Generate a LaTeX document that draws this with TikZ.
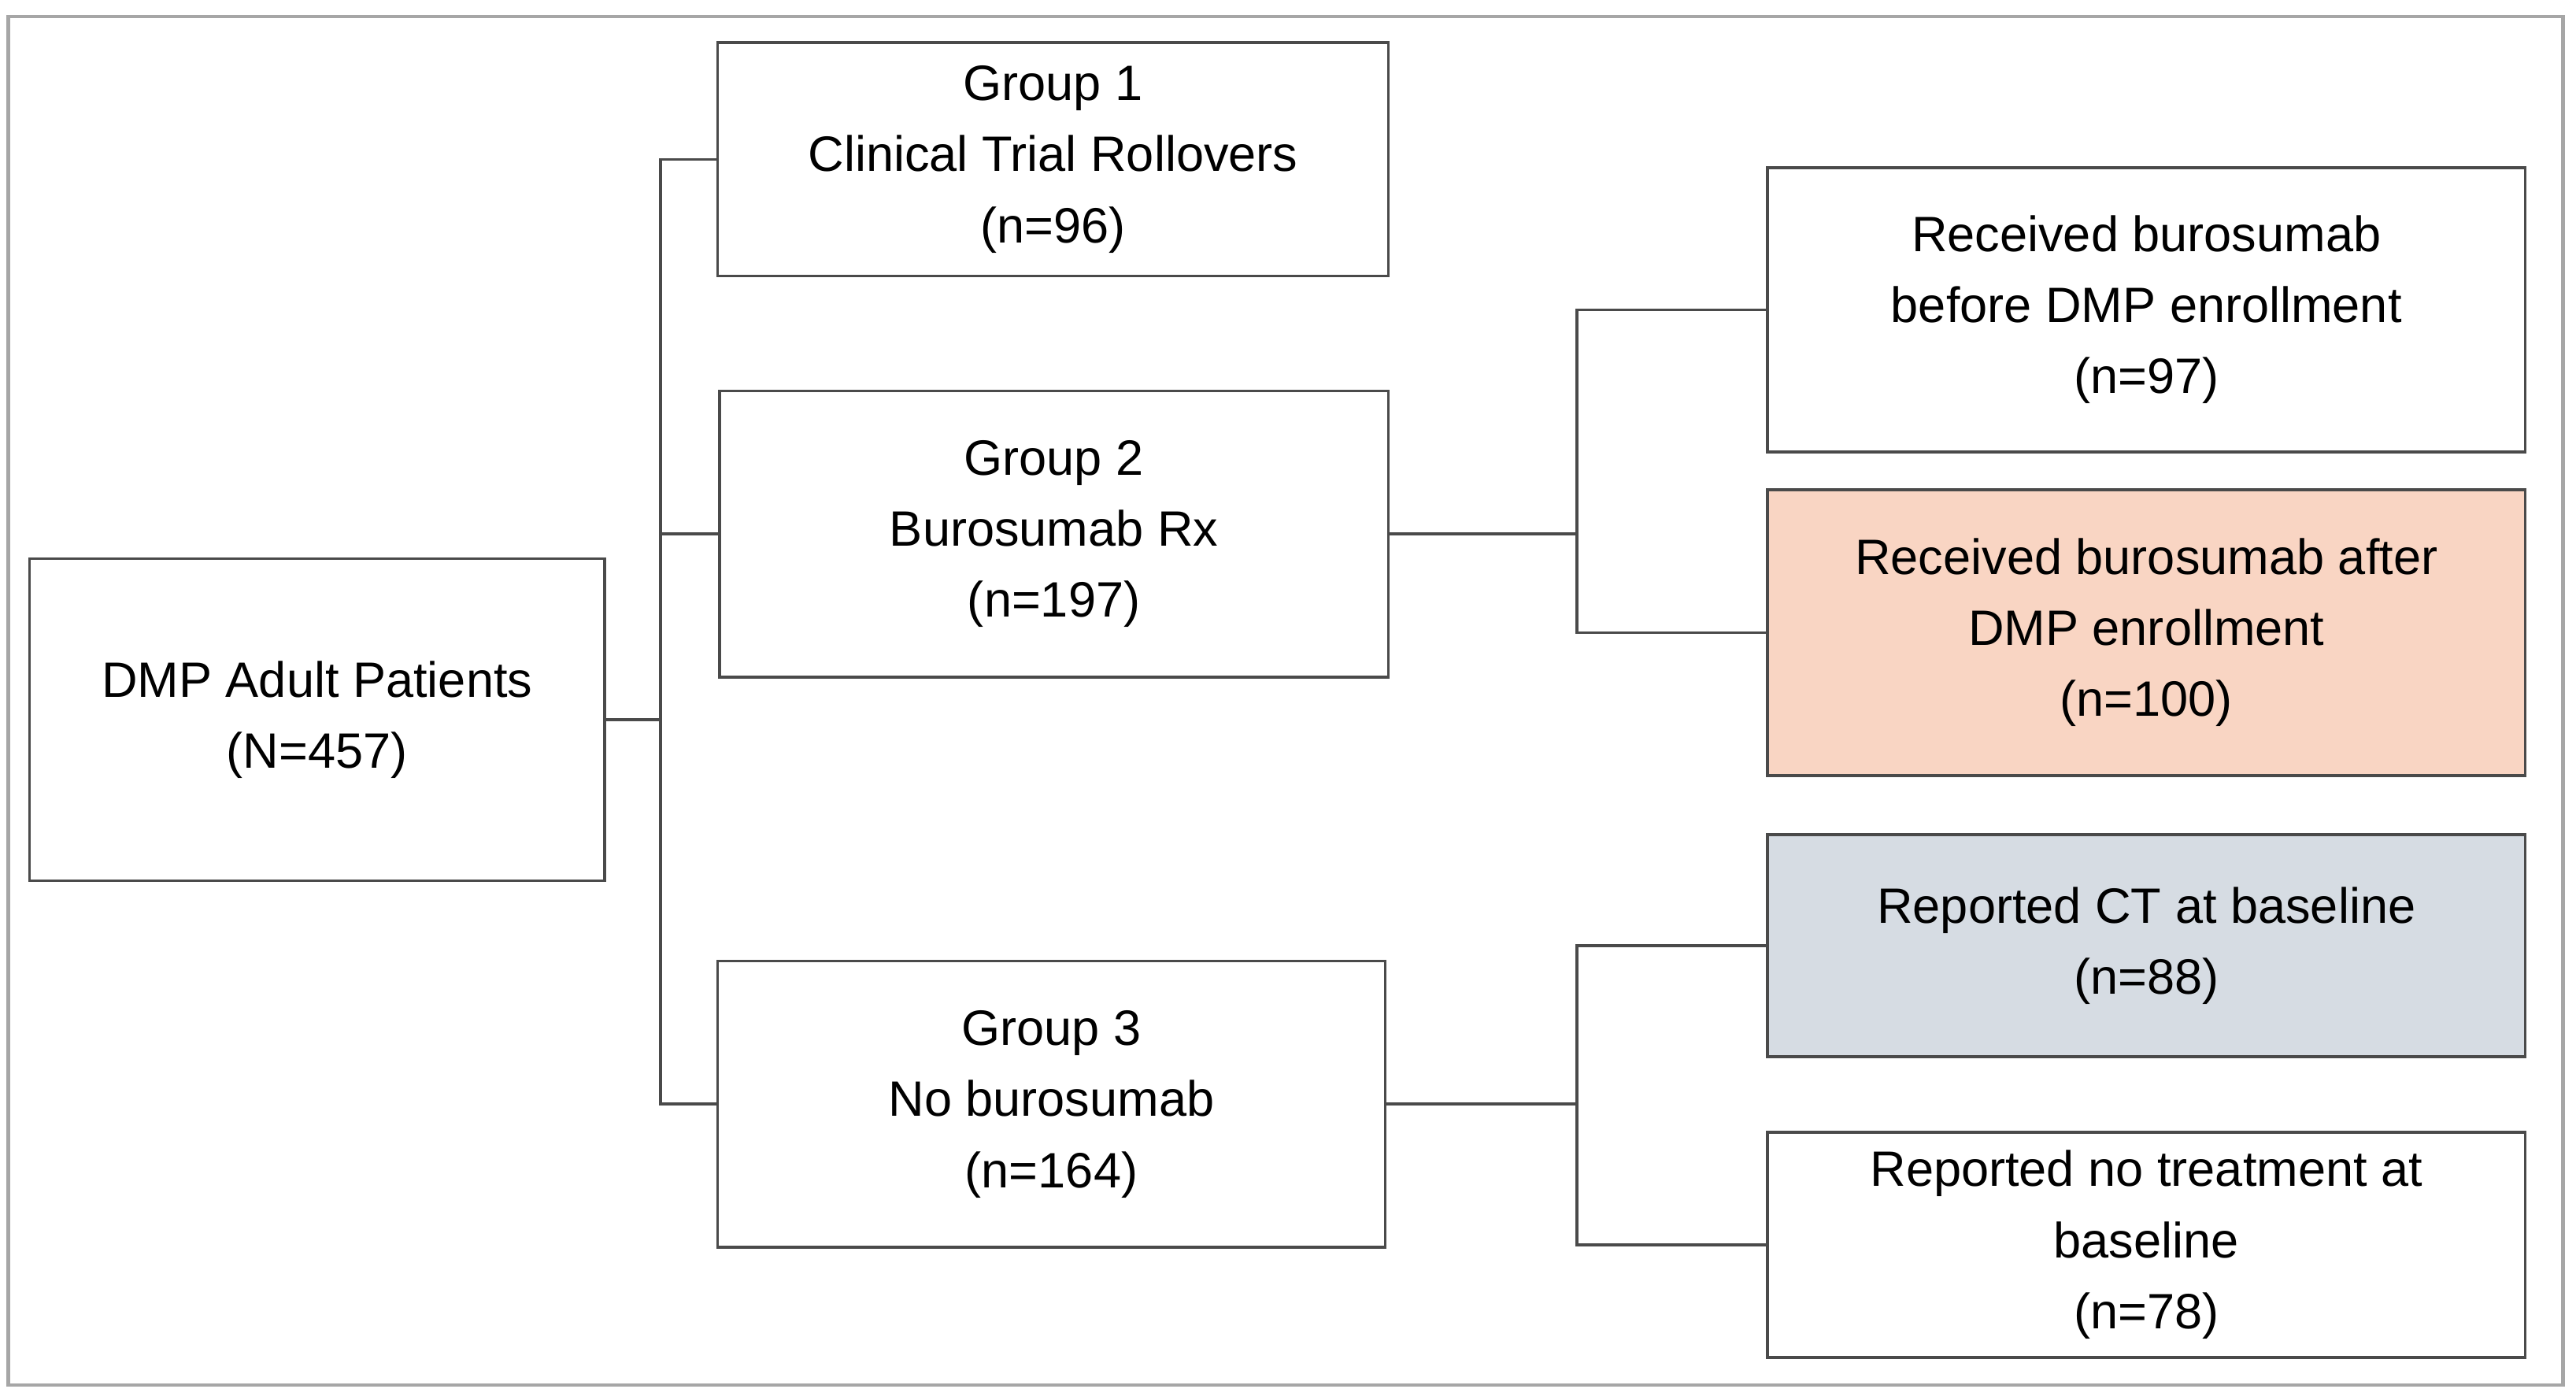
\documentclass[tikz,border=0pt]{standalone}
\usepackage{fontspec}
\setmainfont{Liberation Sans}
\usetikzlibrary{positioning}
\definecolor{boxline}{HTML}{4A4A4A}
\definecolor{afterfill}{HTML}{F9D5C3}
\definecolor{ctfill}{HTML}{D6DCE3}
\begin{document}
\begin{tikzpicture}[x=0.01cm, y=-0.01cm, line width=0.5pt]
    \tikzstyle{box}=[rectangle, draw=boxline, align=center, inner sep=0pt, font=\fontsize{8.6}{12.3}\selectfont]
    \tikzstyle{link}=[draw=boxline, line width=0.5pt]

    % Frame
    \useasboundingbox (0,0) rectangle (1568,852);
    \draw[draw=gray!70, line width=0.6pt] (5,10) rectangle (1560,843);

    % Root
    \node[box, minimum width=3.5cm, minimum height=1.96cm] (dmp) at (193,438) {DMP Adult Patients\\(N=457)};

    % Groups
    \node[box, minimum width=4.08cm, minimum height=1.42cm] (grp1) at (641,97) {Group 1\\Clinical Trial Rollovers\\(n=96)};
    \node[box, minimum width=4.07cm, minimum height=1.74cm] (grp2) at (641.5,325) {Group 2\\Burosumab Rx\\(n=197)};
    \node[box, minimum width=4.06cm, minimum height=1.74cm] (grp3) at (640,672) {Group 3\\No burosumab\\(n=164)};

    % Subgroups
    \node[box, minimum width=4.61cm, minimum height=1.73cm] (before) at (1306.5,188.5) {Received burosumab\\before DMP enrollment\\(n=97)};
    \node[box, fill=afterfill, minimum width=4.61cm, minimum height=1.74cm] (after) at (1306.5,385) {Received burosumab after\\DMP enrollment\\(n=100)};
    \node[box, fill=ctfill, minimum width=4.61cm, minimum height=1.35cm] (ct) at (1306.5,575.5) {Reported CT at baseline\\(n=88)};
    \node[box, minimum width=4.61cm, minimum height=1.37cm] (none) at (1306.5,757.5) {Reported no treatment at\\baseline\\(n=78)};

    % Connectors
    \coordinate (bus) at (402,438);
    \coordinate (bus2) at (960,325);
    \coordinate (bus3) at (960,672);
    \draw[link] (dmp.east) -- (bus);
    \draw[link] (grp1.west) -| (bus) |- (grp3.west);
    \draw[link] (grp2.west) -- (bus |- grp2.west);
    \draw[link] (grp2.east) -- (bus2);
    \draw[link] (before.west) -| (bus2) |- (after.west);
    \draw[link] (grp3.east) -- (bus3);
    \draw[link] (ct.west) -| (bus3) |- (none.west);
\end{tikzpicture}
\end{document}
